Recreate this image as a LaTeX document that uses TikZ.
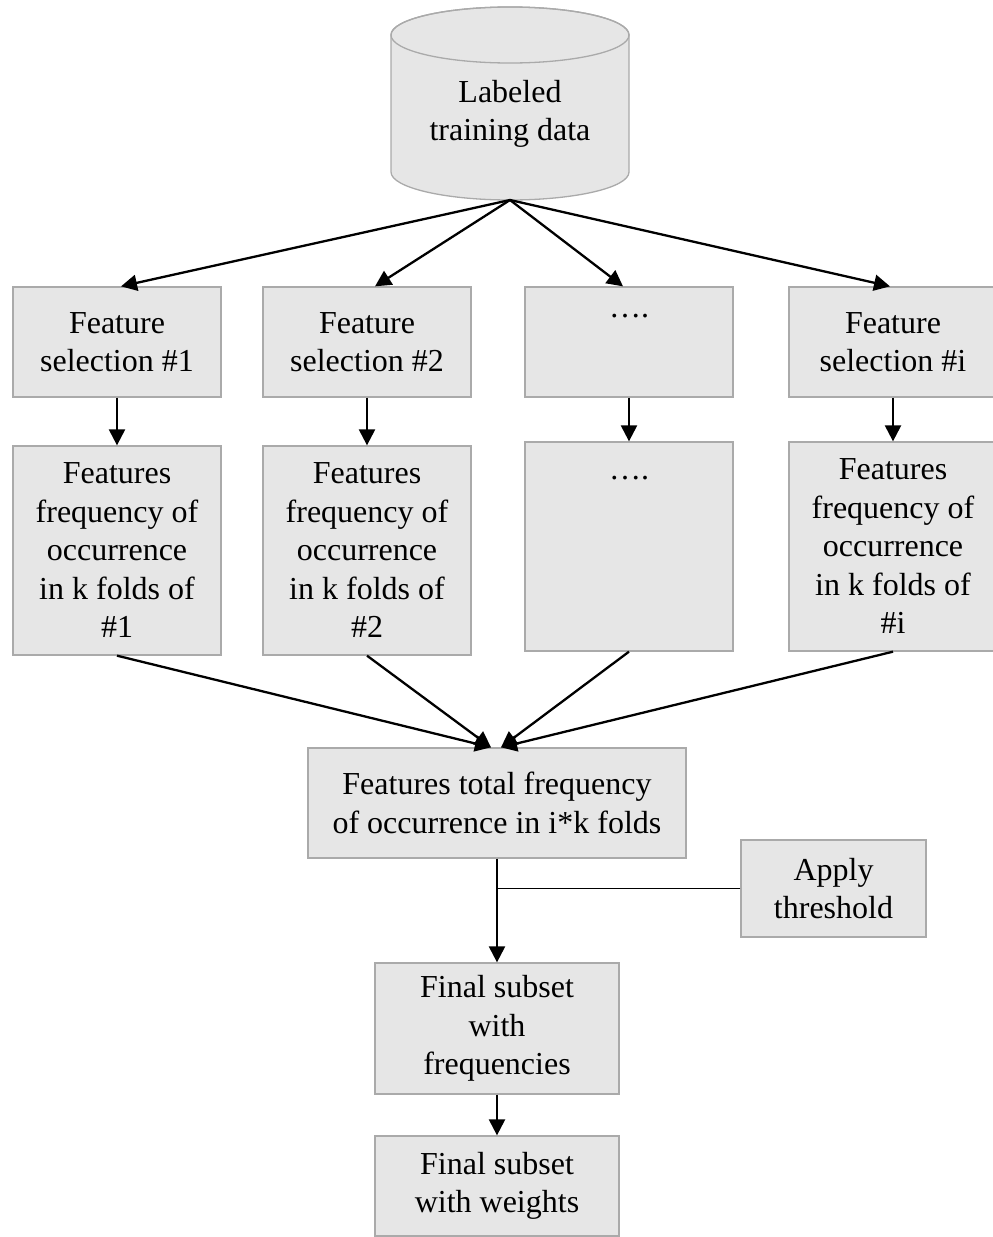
\documentclass[tikz,border=0pt]{standalone}
\usepackage{fontspec}
\setmainfont{Liberation Serif}
\usetikzlibrary{arrows.meta,calc}
\definecolor{boxgray}{RGB}{230,230,230}
\definecolor{bordergray}{RGB}{170,170,170}
\begin{document}
\begin{tikzpicture}[x=1pt,y=1pt,
  txt/.style={font=\fontsize{32}{38.5}\selectfont},
  box/.style={txt, draw=bordergray, fill=boxgray, line width=1.3pt, inner sep=0pt, align=center},
  conn/.style={line width=2.3pt, -{Triangle[length=16pt,width=16pt]}},
  plain/.style={line width=1.3pt}]
\useasboundingbox (0,0) rectangle (993,-1237);
% cylinder
\fill[boxgray, draw=bordergray, line width=1.3pt]
  (391,-35) -- (391,-172) arc (180:360:119 and 28) -- (629,-35) arc (0:180:119 and 28) -- cycle;
\draw[bordergray, line width=1.3pt] (510,-35) ellipse (119 and 28);
\node[txt, align=center] (data) at (510,-114) {Labeled\\training data};
\coordinate (dbot) at (510,-200);
% row 1
\node[box, minimum width=208, minimum height=110] (fs1) at (117,-342) {Feature\\selection \#1};
\node[box, minimum width=208, minimum height=110] (fs2) at (367,-342) {Feature\\selection \#2};
\node[box, minimum width=208, minimum height=110] (fs3) at (629,-342) {};
\node[txt] (fs3t) at (629,-316) {….};
\node[box, minimum width=208, minimum height=110] (fs4) at (893,-342) {Feature\\selection \#i};
% row 2
\node[box, minimum width=208, minimum height=209] (ff1) at (117,-550.5) {Features\\frequency of\\occurrence\\in k folds of\\\#1};
\node[box, minimum width=208, minimum height=209] (ff2) at (367,-550.5) {Features\\frequency of\\occurrence\\in k folds of\\\#2};
\node[box, minimum width=208, minimum height=209] (ff3) at (629,-546.5) {};
\node[txt] (ff3t) at (629,-478) {….};
\node[box, minimum width=208, minimum height=209] (ff4) at (893,-546.5) {Features\\frequency of\\occurrence\\in k folds of\\\#i};
% lower
\node[box, minimum width=378, minimum height=110] (tot) at (497,-803) {Features total frequency\\of occurrence in i*k folds};
\node[box, minimum width=185, minimum height=97] (thr) at (833.5,-888.5) {Apply\\threshold};
\node[box, minimum width=244, minimum height=131] (fin1) at (497,-1028.5) {Final subset\\with\\frequencies};
\node[box, minimum width=244, minimum height=100] (fin2) at (497,-1186) {Final subset\\with weights};
% connectors
\draw[conn] (dbot) -- ($(fs1.north)+(4,0)$);
\draw[conn] (dbot) -- ($(fs2.north)+(8,0)$);
\draw[conn] (dbot) -- ($(fs3.north)+(-6,0)$);
\draw[conn] (dbot) -- ($(fs4.north)+(-3,0)$);
\draw[conn] (fs1.south) -- (ff1.north);
\draw[conn] (fs2.south) -- (ff2.north);
\draw[conn] (fs3.south) -- (ff3.north);
\draw[conn] (fs4.south) -- (ff4.north);
\draw[conn] (ff1.south) -- ($(tot.north)+(-6,0)$);
\draw[conn] (ff2.south) -- ($(tot.north)+(-6,0)$);
\draw[conn] (ff3.south) -- ($(tot.north)+(4,0)$);
\draw[conn] (ff4.south) -- ($(tot.north)+(4,0)$);
\draw[conn] (tot.south) -- (fin1.north);
\draw[plain] (thr.west) -- (tot.south |- thr.west);
\draw[conn] (fin1.south) -- (fin2.north);
\end{tikzpicture}
\end{document}
